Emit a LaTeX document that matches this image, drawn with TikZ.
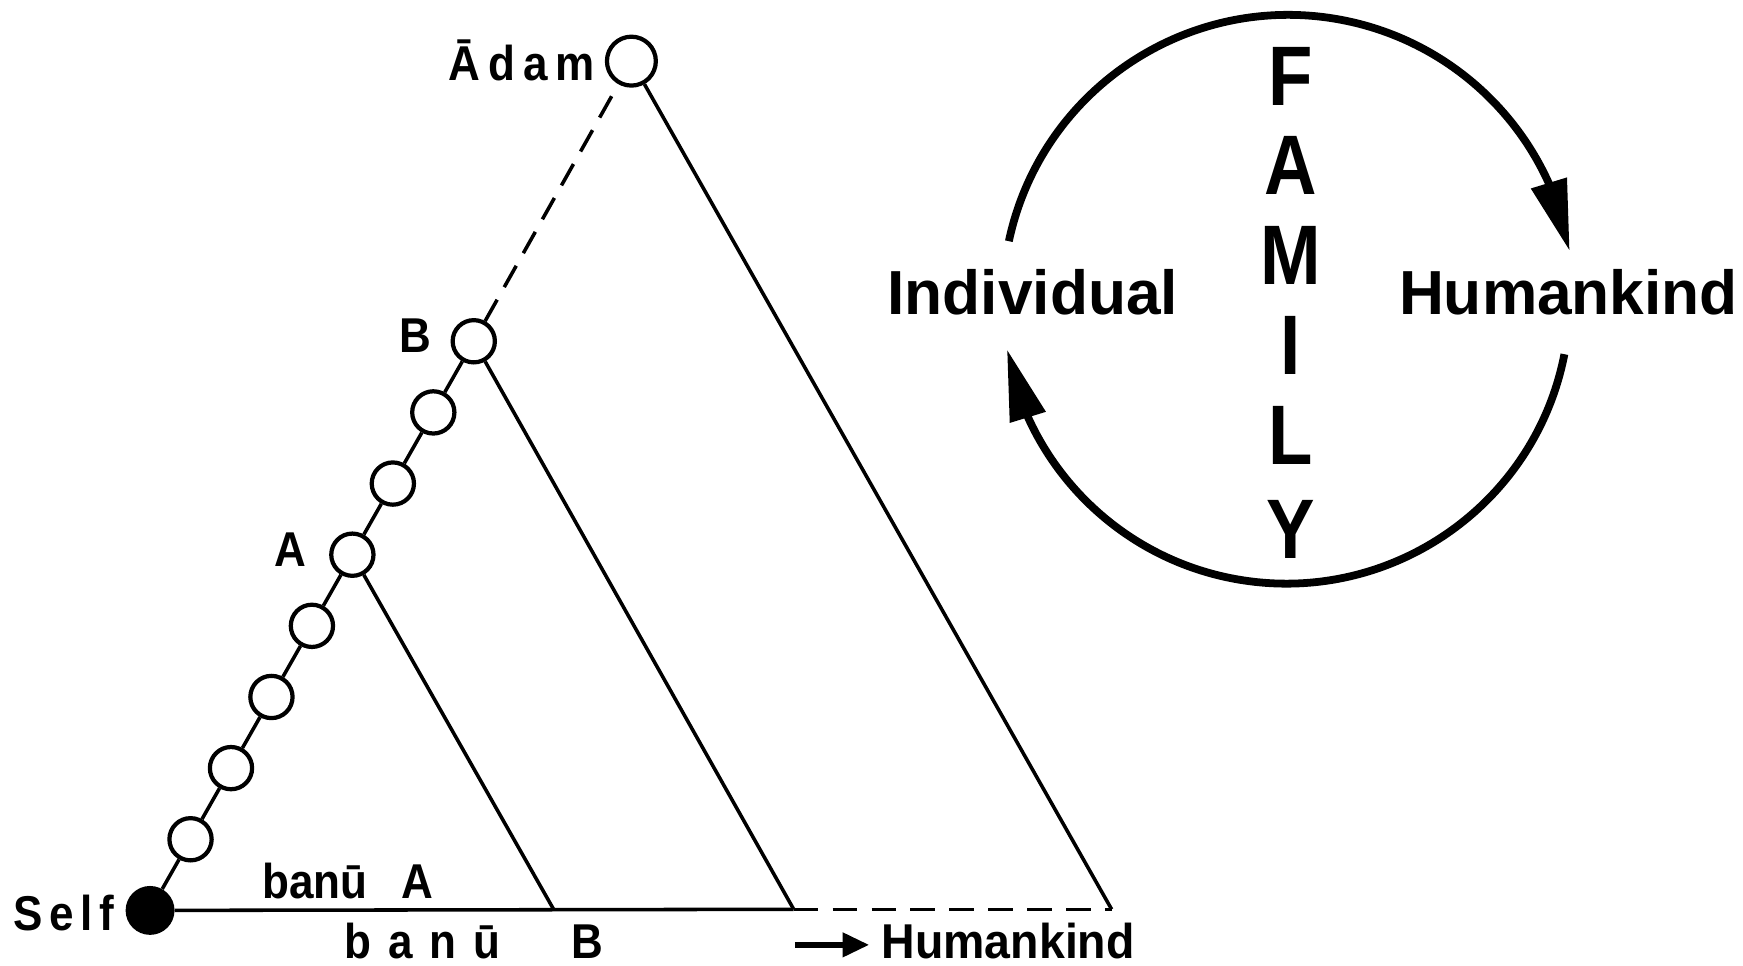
\documentclass[tikz,border=0pt]{standalone}
\usepackage{fontspec}
\setmainfont{Liberation Sans}
\newfontfamily\cndfont[FakeStretch=0.9]{Liberation Sans}
\newfontfamily\hkfont[FakeStretch=0.95]{Liberation Sans}
\newfontfamily\famfont[FakeStretch=0.86]{Liberation Sans}
\usetikzlibrary{arrows.meta,bending}
\begin{document}
\begin{tikzpicture}[x=1pt,y=-1pt,
  lbl/.style={font=\cndfont\bfseries\fontsize{44}{44}\selectfont, inner sep=0pt},
  lblb/.style={font=\hkfont\bfseries\fontsize{44}{44}\selectfont, inner sep=0pt},
  bigl/.style={font=\bfseries\fontsize{56}{56}\selectfont, inner sep=0pt},
  fam/.style={font=\famfont\bfseries\fontsize{76}{76}\selectfont, inner sep=0pt, anchor=base},
  ocirc/.style={circle, draw, line width=3.8pt, fill=white, minimum size=38pt, inner sep=0pt},
  lineA/.style={line width=3.2pt},
  dsh/.style={line width=3.2pt, dash pattern=on 22pt off 13pt},
  cyc/.style={line width=7pt, -{Triangle[length=64pt,width=32pt]}}
]
\useasboundingbox (0,0) rectangle (1568,869);

% genealogy chain
\node[circle, fill=black, minimum size=44pt, inner sep=0pt] (self) at (135,819) {};
\foreach \k in {1,...,8}{
  \node[ocirc] (c\k) at ({135+36.4*\k},{819-64*\k}) {};
}
\node[ocirc, minimum size=44pt] (adam) at (568,55) {};

\coordinate (ea) at (498,818);
\coordinate (eb) at (714,818);
\coordinate (ead) at (1000,818);

\draw[lineA] (self) -- (c1);
\foreach \a/\b in {1/2,2/3,3/4,4/5,5/6,6/7,7/8}{
  \draw[lineA] (c\a) -- (c\b);
}
\draw[dsh] (c8) -- (adam);
\draw[lineA] (c5) -- (ea);
\draw[lineA] (c8) -- (eb);
\draw[lineA] (adam) -- (ead);
\draw[lineA] (self) -- (eb);
\draw[dsh] (eb) -- (ead);

% labels
\node[lbl, anchor=base east] (adamlbl) at (535,72) {Ā\kern7pt d\kern7pt a\kern7pt m};
\node[lbl, anchor=base east] (Blbl) at (388,317) {B};
\node[lbl, anchor=base east] (Albl) at (276,510) {A};
\node[lbl, anchor=base west] (selflbl) at (12,837) {S\kern6pt e\kern6pt l\kern6pt f};
\node[lbl, anchor=base west] (banuA) at (236,808) {banū\hspace{30pt}A};
\node[lbl, anchor=base west] (banuB) at (310,862) {b\kern15pt a\kern15pt n\kern15pt ū\hspace{64pt}B};

\coordinate (as) at (715,850);
\coordinate (ae) at (782,850);
\draw[line width=5.5pt, -{Triangle[length=24pt,width=21pt]}] (as) -- (ae);
\node[lblb, anchor=base west] (hk2) at (793,862) {Humankind};

% cycle diagram
\node[bigl, anchor=base] (indiv) at (929,283) {Individual};
\node[bigl, anchor=base] (hum) at (1411,283) {Humankind};

\node[fam] (fF) at (1161,95) {F};
\node[fam] (fA) at (1161,175) {A};
\node[fam] (fM) at (1161,256) {M};
\node[fam] (fI) at (1161,337) {I};
\node[fam] (fL) at (1161,418) {L};
\node[fam] (fY) at (1161,502) {Y};

\coordinate (cc) at (1157,270);
\draw[cyc] ([shift={(168:255pt)}]cc) arc[start angle=168, end angle=10, radius=257pt];
\draw[cyc] ([shift={(-11:255pt)}]cc) arc[start angle=-11, end angle=-170, radius=255pt];
\end{tikzpicture}
\end{document}
